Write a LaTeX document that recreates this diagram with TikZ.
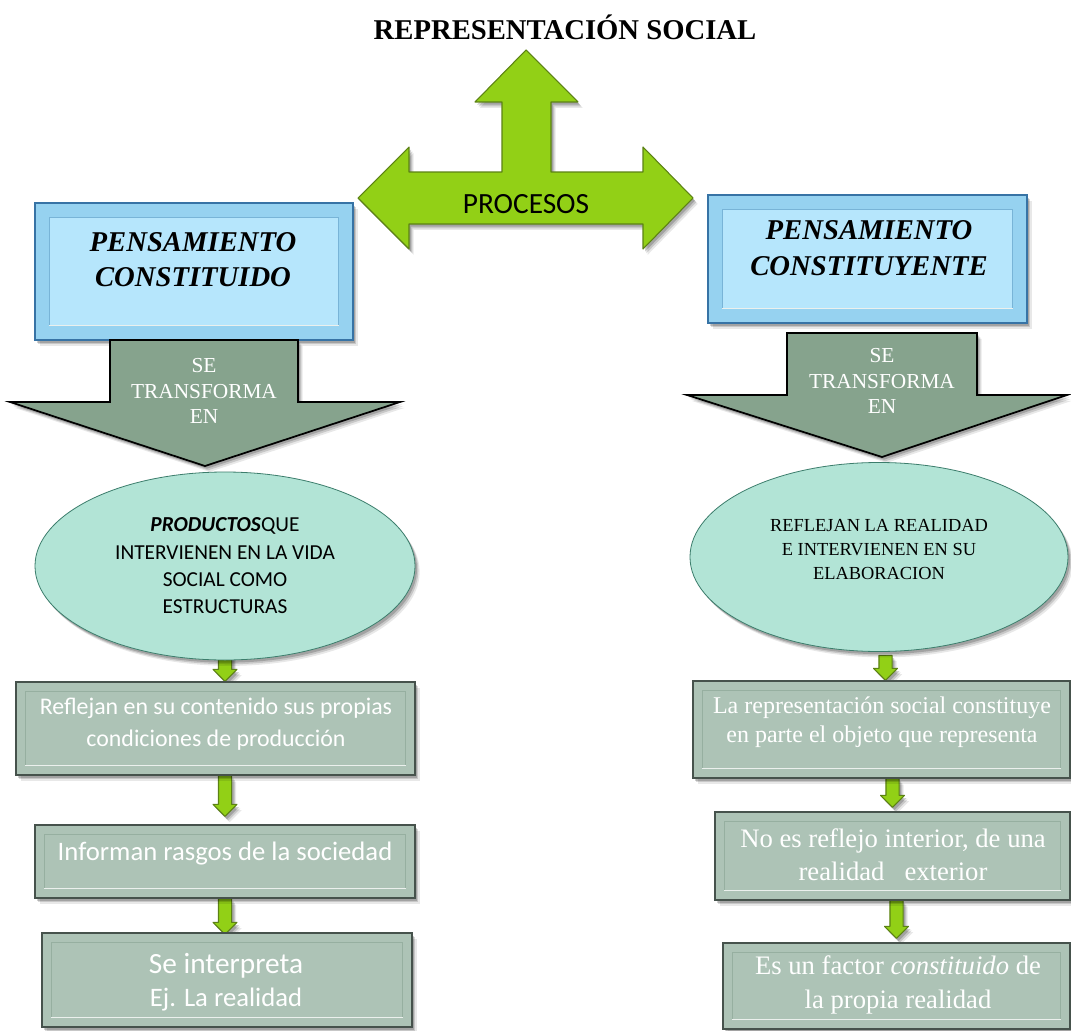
\documentclass[tikz,border=0pt]{standalone}
\usepackage{fontspec}
\setmainfont{Liberation Serif}
\newfontfamily\calib{Carlito}
\usetikzlibrary{shapes.geometric,shadows,calc}
\pgfdeclarelayer{backdrop}
\pgfdeclarelayer{background}
\pgfsetlayers{backdrop,background,main}

\definecolor{limefill}{RGB}{146,208,22}
\definecolor{limeedge}{RGB}{92,130,20}
\definecolor{bluein}{RGB}{182,230,252}
\definecolor{bluestrip}{RGB}{150,210,240}
\definecolor{blueedge}{RGB}{55,115,165}
\definecolor{bluebev}{RGB}{120,180,215}
\definecolor{sagearr}{RGB}{134,163,141}
\definecolor{sagebox}{RGB}{173,195,182}
\definecolor{sageline}{RGB}{150,175,160}
\definecolor{sageedge}{RGB}{70,82,76}
\definecolor{tealin}{RGB}{178,228,214}
\definecolor{tealmid}{RGB}{115,190,170}
\definecolor{tealout}{RGB}{60,125,108}

\pgfdeclareradialshading{tealrim}{\pgfpoint{0bp}{0bp}}{%
  color(0bp)=(tealin); color(37bp)=(tealin); color(45.5bp)=(tealmid); color(50bp)=(tealout)}

\tikzset{
  softshadow/.style={
    drop shadow={shadow xshift=1.5pt, shadow yshift=-2pt, opacity=0.18, fill=black},
    drop shadow={shadow xshift=2.5pt, shadow yshift=-3.2pt, opacity=0.14, fill=black},
    drop shadow={shadow xshift=3.5pt, shadow yshift=-4.4pt, opacity=0.09, fill=black}},
  limeshape/.style={fill=limefill, draw=limeedge, line width=0.8pt, line join=round, softshadow},
  bluebox/.style={rectangle, inner sep=0pt, fill=bluestrip, draw=blueedge, line width=1.2pt, softshadow},
  bluebevel/.style={fill=bluein, draw=bluebev, line width=0.6pt},
  sagearrow/.style={fill=sagearr, draw=black, line width=1.3pt, line join=miter, softshadow},
  sagebox/.style={rectangle, inner sep=0pt, fill=sagebox, draw=sageedge, line width=1pt, softshadow},
  sagebevel/.style={draw=sageline, line width=0.6pt},
  tealell/.style={ellipse, inner sep=0pt, shading=tealrim, draw=tealout, line width=0.6pt, softshadow},
  headtext/.style={align=center, font=\bfseries\itshape\fontsize{21.5}{26.5}\selectfont},
  arrowtext/.style={align=center, text=white, font=\fontsize{16}{19}\selectfont},
  boxtext/.style={align=center, text=white},
}

% inner bevel of a box node: #1 node, #2 inset, #3 style
\newcommand\boxbevel[3]{%
  \draw[#3] ([shift={(#2,#2)}]#1.north west) rectangle ([shift={(-#2,-#2)}]#1.south east);
  \draw[white!75!sagebox, line width=0.9pt] ([shift={(#2,-#2)}]#1.south west) -- ([shift={(-#2,-#2)}]#1.south east);}

% small block-arrow connector from #1 down to the tip #2
\newcommand\limeconn[2]{%
  \draw[limeshape] let \p1=#1, \p2=#2 in
    ({\x1-4.9pt},\y1) -- ({\x1-4.9pt},{\y2+9pt}) -- ({\x1-9pt},{\y2+9pt}) -- (\x1,\y2)
    -- ({\x1+9pt},{\y2+9pt}) -- ({\x1+4.9pt},{\y2+9pt}) -- ({\x1+4.9pt},\y1) -- cycle;}

\begin{document}
\begin{tikzpicture}[x=0.75pt,y=-0.75pt]
\useasboundingbox (0,0) rectangle (1071,1031);
\begin{pgfonlayer}{backdrop}
\fill[white] (0,0) rectangle (1071,1031);
\end{pgfonlayer}

% title
\node[font=\bfseries\fontsize{21.5}{26}\selectfont] (title) at (565,27) {REPRESENTACIÓN SOCIAL};

% three-way block arrow
\draw[limeshape] (526,50) -- (578,102) -- (551,102) -- (551,172) -- (643,172) -- (643,147)
  -- (693,198) -- (643,249) -- (643,224) -- (409,224) -- (409,249) -- (358,198)
  -- (409,147) -- (409,172) -- (502,172) -- (502,102) -- (475,102) -- cycle;
\node[font=\calib\fontsize{22}{26}\selectfont] (proc) at (526,204) {PROCESOS};

% header boxes
\node[bluebox, minimum width=238.5pt, minimum height=102.75pt] (pc) at (194,271.5) {};
\boxbevel{pc}{15}{bluebevel}
\node[headtext] (pct) at (193,259.5) {PENSAMIENTO\\CONSTITUIDO};

\node[bluebox, minimum width=239.25pt, minimum height=96pt] (py) at (867.5,259) {};
\boxbevel{py}{15}{bluebevel}
\node[headtext] (pyt) at (869,248) {PENSAMIENTO\\CONSTITUYENTE};

% large down arrows
\draw[sagearrow] (110,340) -- (298,340) -- (298,402) -- (400,402) -- (205,466) -- (10,402) -- (110,402) -- cycle;
\node[arrowtext] (ta) at (204,391) {SE\\TRANSFORMA\\EN};

\draw[sagearrow] (787,333) -- (977,333) -- (977,395) -- (1067,395) -- (882,457) -- (687,395) -- (787,395) -- cycle;
\node[arrowtext] (tb) at (882,381) {SE\\TRANSFORMA\\EN};

% ellipses
\node[tealell, minimum width=285pt, minimum height=141pt] (e1) at (225,566) {};
\node[align=center, font=\calib\fontsize{16}{20.5}\selectfont] (e1t) at (225,566)
  {\textbf{\textit{PRODUCTOS}}QUE\\INTERVIENEN EN LA VIDA\\SOCIAL COMO\\ESTRUCTURAS};

\node[tealell, minimum width=283.5pt, minimum height=141.75pt] (e2) at (879,557) {};
\node[align=center, font=\fontsize{13.8}{18}\selectfont] (e2t) at (879,550)
  {REFLEJAN LA REALIDAD\\E INTERVIENEN EN SU\\ELABORACION};

% left column boxes
\node[sagebox, minimum width=299.25pt, minimum height=69.75pt] (l1) at (215.5,728.5) {};
\boxbevel{l1}{10}{sagebevel}
\node[boxtext, font=\calib\fontsize{17.9}{24}\selectfont] (l1t) at (216,724)
  {Reflejan en su contenido sus propias\\condiciones de producción};

\node[sagebox, minimum width=285pt, minimum height=54.75pt] (l2) at (225,861.5) {};
\boxbevel{l2}{10}{sagebevel}
\node[boxtext, font=\calib\fontsize{20}{24}\selectfont] (l2t) at (225,854) {Informan rasgos de la sociedad};

\node[sagebox, minimum width=277.5pt, minimum height=70.5pt] (l3) at (227,980) {};
\boxbevel{l3}{10}{sagebevel}
\node[boxtext, font=\calib\fontsize{22}{25}\selectfont] (l3t) at (226,982)
  {Se interpreta\\{\fontsize{20}{25}\selectfont Ej. La realidad}};

% right column boxes
\node[sagebox, minimum width=282.75pt, minimum height=72.75pt] (r1) at (881.5,729.5) {};
\boxbevel{r1}{10}{sagebevel}
\node[boxtext, font=\fontsize{18}{22}\selectfont] (r1t) at (882,722)
  {La representación social constituye\\en parte el objeto que representa};

\node[sagebox, minimum width=266.25pt, minimum height=66pt] (r2) at (892.5,856) {};
\boxbevel{r2}{10}{sagebevel}
\node[boxtext, font=\fontsize{20}{24.5}\selectfont] (r2t) at (893,855)
  {No es reflejo interior, de una\\realidad \ \ exterior};

\node[sagebox, minimum width=260.25pt, minimum height=64.5pt] (r3) at (896.5,986) {};
\boxbevel{r3}{10}{sagebevel}
\node[boxtext, font=\fontsize{20}{25.5}\selectfont] (r3t) at (898,985)
  {Es un factor \textit{constituido} de\\la propia realidad};

% small connectors, drawn behind the shapes they join
\begin{pgfonlayer}{background}
\limeconn{([yshift=4pt]e1.south)}{(e1.south |- l1.north)}
\limeconn{(e1.south |- l1.south)}{($(e1.south |- l2.north)+(0,-8)$)}
\limeconn{(e1.south |- l2.south)}{($(e1.south |- l3.north)+(0,2)$)}
\limeconn{($(r1.north)+(4,-25)$)}{($(r1.north)+(4,0)$)}
\limeconn{(r2.north |- r1.south)}{($(r2.north)+(0,-4)$)}
\limeconn{(r3.north |- r2.south)}{($(r3.north)+(0,-4)$)}
\end{pgfonlayer}
\end{tikzpicture}
\end{document}
